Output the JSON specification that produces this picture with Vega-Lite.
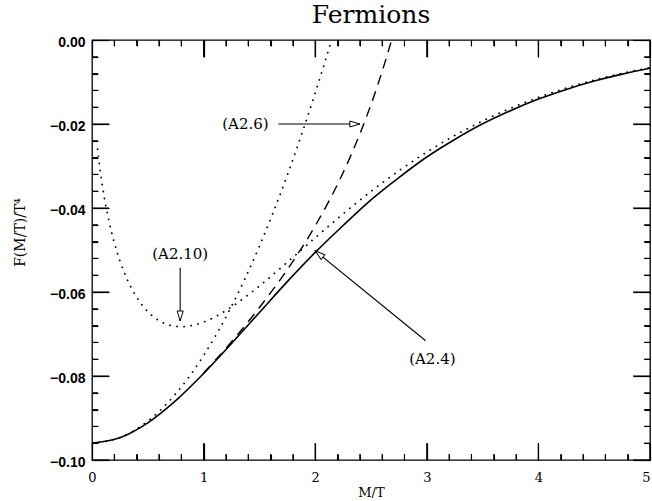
{
  "$schema": "https://vega.github.io/schema/vega-lite/v6.json",
  "width": 558,
  "height": 420,
  "autosize": {"type": "none"},
  "padding": {"left": 92, "top": 40, "right": 2, "bottom": 41},
  "title": {"text": "Fermions", "font": "DejaVu Serif", "fontSize": 25, "fontWeight": "normal", "color": "black", "anchor": "middle", "frame": "group", "offset": 7},
  "config": {
    "view": {"stroke": "black", "strokeWidth": 1.3}
  },
  "datasets": {
    "exact": [
      {"m": 0, "f": -0.09596}, {"m": 0.25, "f": -0.09469}, {"m": 0.5, "f": -0.09115}, {"m": 0.75, "f": -0.08586},
      {"m": 1, "f": -0.0794}, {"m": 1.25, "f": -0.07226}, {"m": 1.5, "f": -0.06489}, {"m": 1.75, "f": -0.05753},
      {"m": 2, "f": -0.05058}, {"m": 2.25, "f": -0.04416}, {"m": 2.5, "f": -0.03805}, {"m": 2.75, "f": -0.03275},
      {"m": 3, "f": -0.02786}, {"m": 3.25, "f": -0.02369}, {"m": 3.5, "f": -0.01996}, {"m": 3.75, "f": -0.01682},
      {"m": 4, "f": -0.01407}, {"m": 4.25, "f": -0.01176}, {"m": 4.5, "f": -0.00978}, {"m": 4.75, "f": -0.00812},
      {"m": 5, "f": -0.00672}
    ],
    "hight": [
      {"m": 0, "f": -0.09596}, {"m": 0.25, "f": -0.09465}, {"m": 0.5, "f": -0.09075}, {"m": 0.75, "f": -0.08424},
      {"m": 1, "f": -0.07512}, {"m": 1.25, "f": -0.06341}, {"m": 1.5, "f": -0.04908}, {"m": 1.75, "f": -0.03216},
      {"m": 1.875, "f": -0.02272}, {"m": 2, "f": -0.01262}, {"m": 2.075, "f": -0.00626}, {"m": 2.1462, "f": 0}
    ],
    "a26": [
      {"m": 1, "f": -0.0793}, {"m": 1.25, "f": -0.07186}, {"m": 1.5, "f": -0.0637}, {"m": 1.75, "f": -0.05466},
      {"m": 2, "f": -0.04425}, {"m": 2.25, "f": -0.03159}, {"m": 2.4, "f": -0.02238}, {"m": 2.5, "f": -0.01536},
      {"m": 2.6, "f": -0.00748}, {"m": 2.7, "f": 0.00139}
    ],
    "a210": [
      {"m": 0.05, "f": -0.026}, {"m": 0.075, "f": -0.03146}, {"m": 0.1, "f": -0.03588}, {"m": 0.15, "f": -0.04286},
      {"m": 0.2, "f": -0.04824}, {"m": 0.3, "f": -0.05604}, {"m": 0.4, "f": -0.06124}, {"m": 0.5, "f": -0.06468},
      {"m": 0.6, "f": -0.06681}, {"m": 0.7, "f": -0.06793}, {"m": 0.8, "f": -0.06826}, {"m": 0.9, "f": -0.06796},
      {"m": 1, "f": -0.06716}, {"m": 1.25, "f": -0.06356}, {"m": 1.5, "f": -0.05856}, {"m": 1.75, "f": -0.05291},
      {"m": 2, "f": -0.04709}, {"m": 2.25, "f": -0.04141}, {"m": 2.5, "f": -0.03605}, {"m": 2.75, "f": -0.03113},
      {"m": 3, "f": -0.02669}, {"m": 3.25, "f": -0.02275}, {"m": 3.5, "f": -0.01928}, {"m": 3.75, "f": -0.01627},
      {"m": 4, "f": -0.01366}, {"m": 4.25, "f": -0.01144}, {"m": 4.5, "f": -0.00954}, {"m": 4.75, "f": -0.00793},
      {"m": 5, "f": -0.00658}
    ],
    "labels": [
      {"text": "(A2.6)", "m": 1.375, "f": -0.0201},
      {"text": "(A2.10)", "m": 0.79, "f": -0.0509},
      {"text": "(A2.4)", "m": 3.05, "f": -0.076}
    ],
    "arrows": [
      {"id": "A2.6", "m": 1.67, "f": -0.02, "m2": 2.4, "f2": -0.02},
      {"id": "A2.10", "m": 0.79, "f": -0.0542, "m2": 0.79, "f2": -0.0669},
      {"id": "A2.4", "m": 2.99, "f": -0.0716, "m2": 2.0, "f2": -0.0502}
    ],
    "xmajor": [
      {"v": 0, "edge": -0.1}, {"v": 1, "edge": -0.1}, {"v": 2, "edge": -0.1}, {"v": 3, "edge": -0.1}, {"v": 4, "edge": -0.1}, {"v": 5, "edge": -0.1},
      {"v": 0, "edge": 0}, {"v": 1, "edge": 0}, {"v": 2, "edge": 0}, {"v": 3, "edge": 0}, {"v": 4, "edge": 0}, {"v": 5, "edge": 0}
    ],
    "xminor": [
      {"v": 0.2, "edge": -0.1}, {"v": 0.4, "edge": -0.1}, {"v": 0.6, "edge": -0.1}, {"v": 0.8, "edge": -0.1},
      {"v": 1.2, "edge": -0.1}, {"v": 1.4, "edge": -0.1}, {"v": 1.6, "edge": -0.1}, {"v": 1.8, "edge": -0.1},
      {"v": 2.2, "edge": -0.1}, {"v": 2.4, "edge": -0.1}, {"v": 2.6, "edge": -0.1}, {"v": 2.8, "edge": -0.1},
      {"v": 3.2, "edge": -0.1}, {"v": 3.4, "edge": -0.1}, {"v": 3.6, "edge": -0.1}, {"v": 3.8, "edge": -0.1},
      {"v": 4.2, "edge": -0.1}, {"v": 4.4, "edge": -0.1}, {"v": 4.6, "edge": -0.1}, {"v": 4.8, "edge": -0.1},
      {"v": 0.2, "edge": 0}, {"v": 0.4, "edge": 0}, {"v": 0.6, "edge": 0}, {"v": 0.8, "edge": 0},
      {"v": 1.2, "edge": 0}, {"v": 1.4, "edge": 0}, {"v": 1.6, "edge": 0}, {"v": 1.8, "edge": 0},
      {"v": 2.2, "edge": 0}, {"v": 2.4, "edge": 0}, {"v": 2.6, "edge": 0}, {"v": 2.8, "edge": 0},
      {"v": 3.2, "edge": 0}, {"v": 3.4, "edge": 0}, {"v": 3.6, "edge": 0}, {"v": 3.8, "edge": 0},
      {"v": 4.2, "edge": 0}, {"v": 4.4, "edge": 0}, {"v": 4.6, "edge": 0}, {"v": 4.8, "edge": 0}
    ],
    "ymajor": [
      {"v": -0.1, "edge": 0}, {"v": -0.08, "edge": 0}, {"v": -0.06, "edge": 0}, {"v": -0.04, "edge": 0}, {"v": -0.02, "edge": 0}, {"v": 0, "edge": 0},
      {"v": -0.1, "edge": 5}, {"v": -0.08, "edge": 5}, {"v": -0.06, "edge": 5}, {"v": -0.04, "edge": 5}, {"v": -0.02, "edge": 5}, {"v": 0, "edge": 5}
    ],
    "yminor": [
      {"v": -0.096, "edge": 0}, {"v": -0.092, "edge": 0}, {"v": -0.088, "edge": 0}, {"v": -0.084, "edge": 0},
      {"v": -0.076, "edge": 0}, {"v": -0.072, "edge": 0}, {"v": -0.068, "edge": 0}, {"v": -0.064, "edge": 0},
      {"v": -0.056, "edge": 0}, {"v": -0.052, "edge": 0}, {"v": -0.048, "edge": 0}, {"v": -0.044, "edge": 0},
      {"v": -0.036, "edge": 0}, {"v": -0.032, "edge": 0}, {"v": -0.028, "edge": 0}, {"v": -0.024, "edge": 0},
      {"v": -0.016, "edge": 0}, {"v": -0.012, "edge": 0}, {"v": -0.008, "edge": 0}, {"v": -0.004, "edge": 0},
      {"v": -0.096, "edge": 5}, {"v": -0.092, "edge": 5}, {"v": -0.088, "edge": 5}, {"v": -0.084, "edge": 5},
      {"v": -0.076, "edge": 5}, {"v": -0.072, "edge": 5}, {"v": -0.068, "edge": 5}, {"v": -0.064, "edge": 5},
      {"v": -0.056, "edge": 5}, {"v": -0.052, "edge": 5}, {"v": -0.048, "edge": 5}, {"v": -0.044, "edge": 5},
      {"v": -0.036, "edge": 5}, {"v": -0.032, "edge": 5}, {"v": -0.028, "edge": 5}, {"v": -0.024, "edge": 5},
      {"v": -0.016, "edge": 5}, {"v": -0.012, "edge": 5}, {"v": -0.008, "edge": 5}, {"v": -0.004, "edge": 5}
    ]
  },
  "resolve": {"axis": {"x": "independent", "y": "independent"}},
  "layer": [
    {
      "data": {"name": "exact"},
      "mark": {"type": "line", "color": "black", "strokeWidth": 1.6, "interpolate": "monotone", "clip": true},
      "encoding": {
        "x": {"field": "m", "type": "quantitative", "scale": {"domain": [0, 5], "nice": false, "zero": false},
          "axis": {"orient": "bottom", "values": [0, 1, 2, 3, 4, 5], "format": "d", "domain": false, "grid": false, "ticks": true, "tickSize": -17, "tickColor": "black", "tickWidth": 1.2, "labelPadding": 28, "labelColor": "black",
            "labelFont": "DejaVu Serif", "labelFontSize": 13, "labelFlush": false,
            "labelAlign": {"condition": {"test": "datum.value === 5", "value": "right"}, "value": "center"},
            "title": "M/T", "titleColor": "black", "titleFont": "DejaVu Serif", "titleFontSize": 13, "titleFontWeight": "normal", "titleY": 32, "titleBaseline": "middle"}},
        "y": {"field": "f", "type": "quantitative", "scale": {"domain": [-0.1, 0], "nice": false, "zero": false},
          "axis": {"orient": "left", "values": [-0.1, -0.08, -0.06, -0.04, -0.02, 0], "format": ".2f", "domain": false, "grid": false, "ticks": true, "tickSize": -17, "tickColor": "black", "tickWidth": 1.2, "labelPadding": 24, "labelOffset": 2, "labelColor": "black",
            "labelFont": "Liberation Sans", "labelFontWeight": "bold", "labelFontSize": 14, "labelFlush": false,
            "title": "F(M/T)/T⁴", "titleColor": "black", "titleFont": "DejaVu Serif", "titleFontSize": 14, "titleFontWeight": "normal", "titleX": -72, "titleY": 192, "titleBaseline": "middle", "titleAlign": "center", "titleAngle": -90}}
      }
    },
    {
      "data": {"name": "a210"},
      "mark": {"type": "line", "color": "black", "strokeWidth": 1.8, "strokeDash": [0.1, 7], "strokeCap": "round", "interpolate": "monotone", "clip": true},
      "encoding": {
        "x": {"field": "m", "type": "quantitative", "scale": {"domain": [0, 5], "nice": false, "zero": false},
          "axis": {"orient": "bottom", "values": [0, 0.2, 0.4, 0.6, 0.8, 1, 1.2, 1.4, 1.6, 1.8, 2, 2.2, 2.4, 2.6, 2.8, 3, 3.2, 3.4, 3.6, 3.8, 4, 4.2, 4.4, 4.6, 4.8, 5], "domain": false, "grid": false, "ticks": true, "tickSize": -6, "tickColor": "black", "tickWidth": 1.1, "labels": false, "title": null}},
        "y": {"field": "f", "type": "quantitative", "scale": {"domain": [-0.1, 0], "nice": false, "zero": false},
          "axis": {"orient": "left", "values": [-0.1, -0.096, -0.092, -0.088, -0.084, -0.08, -0.076, -0.072, -0.068, -0.064, -0.06, -0.056, -0.052, -0.048, -0.044, -0.04, -0.036, -0.032, -0.028, -0.024, -0.02, -0.016, -0.012, -0.008, -0.004, 0], "domain": false, "grid": false, "ticks": true, "tickSize": -6, "tickColor": "black", "tickWidth": 1.1, "labels": false, "title": null}}
      }
    },
    {
      "data": {"name": "hight"},
      "mark": {"type": "line", "color": "black", "strokeWidth": 1.8, "strokeDash": [0.1, 7], "strokeCap": "round", "interpolate": "monotone", "clip": true},
      "encoding": {
        "x": {"field": "m", "type": "quantitative", "scale": {"domain": [0, 5], "nice": false, "zero": false},
          "axis": {"orient": "top", "values": [0, 1, 2, 3, 4, 5], "domain": false, "grid": false, "ticks": true, "tickSize": -17, "tickColor": "black", "tickWidth": 1.2, "labels": false, "title": null}},
        "y": {"field": "f", "type": "quantitative", "scale": {"domain": [-0.1, 0], "nice": false, "zero": false},
          "axis": {"orient": "right", "values": [-0.1, -0.08, -0.06, -0.04, -0.02, 0], "domain": false, "grid": false, "ticks": true, "tickSize": -17, "tickColor": "black", "tickWidth": 1.2, "labels": false, "title": null}}
      }
    },
    {
      "data": {"name": "a26"},
      "mark": {"type": "line", "color": "black", "strokeWidth": 1.4, "strokeDash": [10, 7], "interpolate": "monotone", "clip": true},
      "encoding": {
        "x": {"field": "m", "type": "quantitative", "scale": {"domain": [0, 5], "nice": false, "zero": false},
          "axis": {"orient": "top", "values": [0, 0.2, 0.4, 0.6, 0.8, 1, 1.2, 1.4, 1.6, 1.8, 2, 2.2, 2.4, 2.6, 2.8, 3, 3.2, 3.4, 3.6, 3.8, 4, 4.2, 4.4, 4.6, 4.8, 5], "domain": false, "grid": false, "ticks": true, "tickSize": -6, "tickColor": "black", "tickWidth": 1.1, "labels": false, "title": null}},
        "y": {"field": "f", "type": "quantitative", "scale": {"domain": [-0.1, 0], "nice": false, "zero": false},
          "axis": {"orient": "right", "values": [-0.1, -0.096, -0.092, -0.088, -0.084, -0.08, -0.076, -0.072, -0.068, -0.064, -0.06, -0.056, -0.052, -0.048, -0.044, -0.04, -0.036, -0.032, -0.028, -0.024, -0.02, -0.016, -0.012, -0.008, -0.004, 0], "domain": false, "grid": false, "ticks": true, "tickSize": -6, "tickColor": "black", "tickWidth": 1.1, "labels": false, "title": null}}
      }
    },
    {
      "data": {"name": "xmajor"},
      "mark": {"type": "tick", "orient": "vertical", "size": 34, "thickness": 1.2, "color": "black", "opacity": 1, "clip": true},
      "encoding": {"x": {"field": "v", "type": "quantitative", "axis": null}, "y": {"field": "edge", "type": "quantitative", "axis": null}}
    },
    {
      "data": {"name": "xminor"},
      "mark": {"type": "tick", "orient": "vertical", "size": 12, "thickness": 1.1, "color": "black", "opacity": 1, "clip": true},
      "encoding": {"x": {"field": "v", "type": "quantitative", "axis": null}, "y": {"field": "edge", "type": "quantitative", "axis": null}}
    },
    {
      "data": {"name": "ymajor"},
      "mark": {"type": "tick", "orient": "horizontal", "size": 34, "thickness": 1.2, "color": "black", "opacity": 1, "clip": true},
      "encoding": {"y": {"field": "v", "type": "quantitative", "axis": null}, "x": {"field": "edge", "type": "quantitative", "axis": null}}
    },
    {
      "data": {"name": "yminor"},
      "mark": {"type": "tick", "orient": "horizontal", "size": 12, "thickness": 1.1, "color": "black", "opacity": 1, "clip": true},
      "encoding": {"y": {"field": "v", "type": "quantitative", "axis": null}, "x": {"field": "edge", "type": "quantitative", "axis": null}}
    },
    {
      "data": {"name": "arrows"},
      "mark": {"type": "rule", "color": "black", "strokeWidth": 1.1},
      "encoding": {
        "x": {"field": "m", "type": "quantitative", "axis": null},
        "y": {"field": "f", "type": "quantitative", "axis": null},
        "x2": {"field": "m2"},
        "y2": {"field": "f2"}
      }
    },
    {
      "data": {"name": "arrows"},
      "transform": [{"filter": "datum.id === 'A2.6'"}],
      "mark": {"type": "point", "shape": "M0,0L-0.6,2L0.6,2Z", "filled": true, "fill": "white", "stroke": "black", "strokeWidth": 1, "size": 100, "opacity": 1, "angle": 90},
      "encoding": {"x": {"field": "m2", "type": "quantitative", "axis": null}, "y": {"field": "f2", "type": "quantitative", "axis": null}}
    },
    {
      "data": {"name": "arrows"},
      "transform": [{"filter": "datum.id === 'A2.10'"}],
      "mark": {"type": "point", "shape": "M0,0L-0.6,2L0.6,2Z", "filled": true, "fill": "white", "stroke": "black", "strokeWidth": 1, "size": 100, "opacity": 1, "angle": 180},
      "encoding": {"x": {"field": "m2", "type": "quantitative", "axis": null}, "y": {"field": "f2", "type": "quantitative", "axis": null}}
    },
    {
      "data": {"name": "arrows"},
      "transform": [{"filter": "datum.id === 'A2.4'"}],
      "mark": {"type": "point", "shape": "M0,0L-0.6,2L0.6,2Z", "filled": true, "fill": "white", "stroke": "black", "strokeWidth": 1, "size": 100, "opacity": 1, "angle": 309},
      "encoding": {"x": {"field": "m2", "type": "quantitative", "axis": null}, "y": {"field": "f2", "type": "quantitative", "axis": null}}
    },
    {
      "data": {"name": "labels"},
      "mark": {"type": "text", "font": "DejaVu Serif", "fontSize": 15, "color": "black", "align": "center", "baseline": "middle"},
      "encoding": {
        "x": {"field": "m", "type": "quantitative", "axis": null},
        "y": {"field": "f", "type": "quantitative", "axis": null},
        "text": {"field": "text"}
      }
    }
  ]
}
